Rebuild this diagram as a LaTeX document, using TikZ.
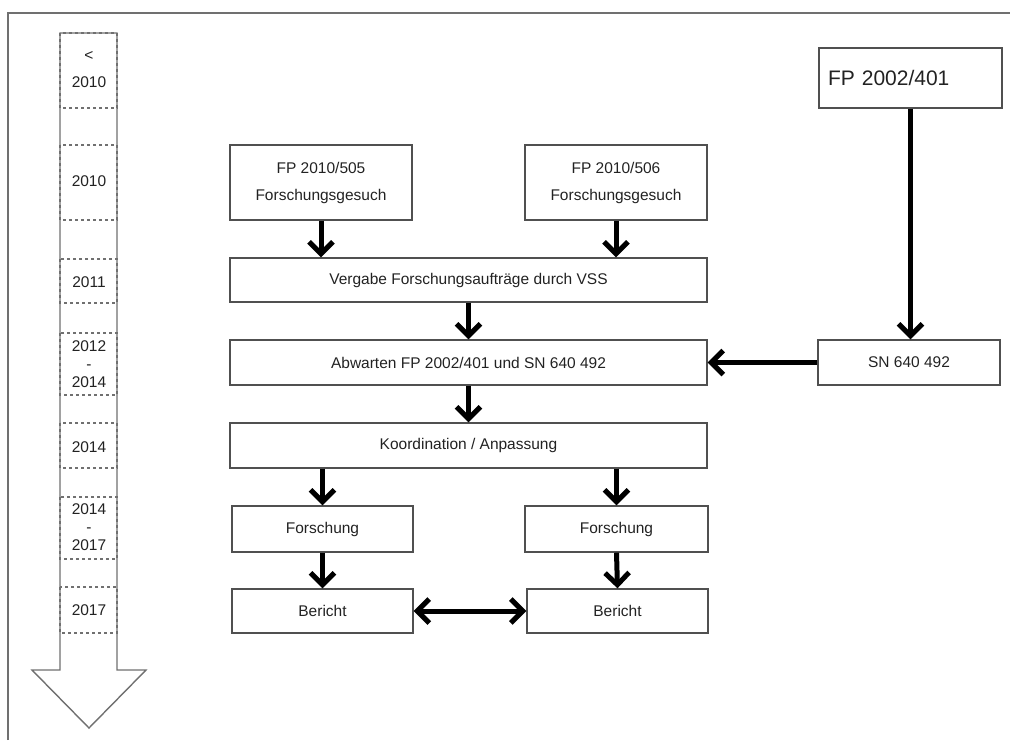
\documentclass[tikz,border=0pt]{standalone}
\usepackage{fontspec}
\setmainfont{Liberation Sans}
\usetikzlibrary{arrows.meta}
\definecolor{frame}{HTML}{707070}
\definecolor{boxline}{HTML}{505050}
\definecolor{txt}{HTML}{222222}
\begin{document}
\begin{tikzpicture}[x=1pt,y=-1pt,
  pbox/.style={draw=boxline,line width=1.4pt,rectangle,inner sep=0pt,text=txt,
    font=\fontsize{15.5}{27}\selectfont,align=center},
  yearlbl/.style={text=txt,font=\fontsize{15.5}{18}\selectfont,align=center,inner sep=0pt},
  tipb/.tip={Straight Barb[length=12pt,width=24pt,line width=5pt]},
  flow/.style={line width=5pt,-tipb},
  flowboth/.style={line width=5pt,tipb-tipb},
  yeardash/.style={draw=frame,line width=1.1pt,dashed}]
\useasboundingbox (0,0) rectangle (1010,740);
% page frame
\draw[frame,line width=1.5pt] (8,740) -- (8,13) -- (1010,13);
% timeline arrow
\draw[frame,line width=1.4pt,fill=white] (60,33) -- (117,33) -- (117,670) -- (146,670) -- (89,728) -- (32,670) -- (60,670) -- cycle;
\foreach \t/\b in {33/108,145/220,259/303,333/395,423/468,497/559,587/633}{
  \draw[yeardash] (60,\t) rectangle (117,\b);
}
\node[yearlbl] (y0) at (89,70) {<\\[9pt]2010};
\node[yearlbl] (y1) at (89,181) {2010};
\node[yearlbl] (y2) at (89,282) {2011};
\node[yearlbl] (y3) at (89,364) {2012\\-\\2014};
\node[yearlbl] (y4) at (89,447) {2014};
\node[yearlbl] (y5) at (89,527) {2014\\-\\2017};
\node[yearlbl] (y6) at (89,610) {2017};
% boxes
\node[pbox,minimum width=182pt,minimum height=75pt] (b505) at (321,182.5) {FP 2010/505\\Forschungsgesuch};
\node[pbox,minimum width=182pt,minimum height=75pt] (b506) at (616,182.5) {FP 2010/506\\Forschungsgesuch};
\node[pbox,minimum width=477pt,minimum height=44pt] (verg) at (468.5,280) {Vergabe Forschungsaufträge durch VSS};
\node[pbox,minimum width=477pt,minimum height=45pt] (abw) at (468.5,362.5) {Abwarten FP 2002/401 und SN 640 492};
\node[pbox,minimum width=182pt,minimum height=45pt] (sn) at (909,362.5) {SN 640 492};
\node[pbox,minimum width=183pt,minimum height=60pt,text width=165pt,align=left,font=\fontsize{21}{25}\selectfont] (fp) at (910.5,78) {FP 2002/401};
\node[pbox,minimum width=477pt,minimum height=45pt] (koord) at (468.5,445.5) {Koordination / Anpassung};
\node[pbox,minimum width=181pt,minimum height=46pt] (fl) at (322.5,529) {Forschung};
\node[pbox,minimum width=183pt,minimum height=46pt] (fr) at (616.5,529) {Forschung};
\node[pbox,minimum width=181pt,minimum height=44pt] (bl) at (322.5,611) {Bericht};
\node[pbox,minimum width=181pt,minimum height=44pt] (br) at (617.5,611) {Bericht};
% connectors
\draw[flow] (b505.south) -- (b505.south |- verg.north);
\draw[flow] (b506.south) -- (b506.south |- verg.north);
\draw[flow] (verg.south) -- (abw.north);
\draw[flow] (fp.south) -- (fp.south |- sn.north);
\draw[flow] (sn.west) -- (abw.east);
\draw[flow] (abw.south) -- (koord.north);
\draw[flow] (fl.north |- koord.south) -- (fl.north);
\draw[flow] (fr.north |- koord.south) -- (fr.north);
\draw[flow] (fl.south) -- (bl.north);
\draw[flow] (fr.south) -- (br.north);
\draw[flowboth] (bl.east) -- (br.west);
\end{tikzpicture}
\end{document}
